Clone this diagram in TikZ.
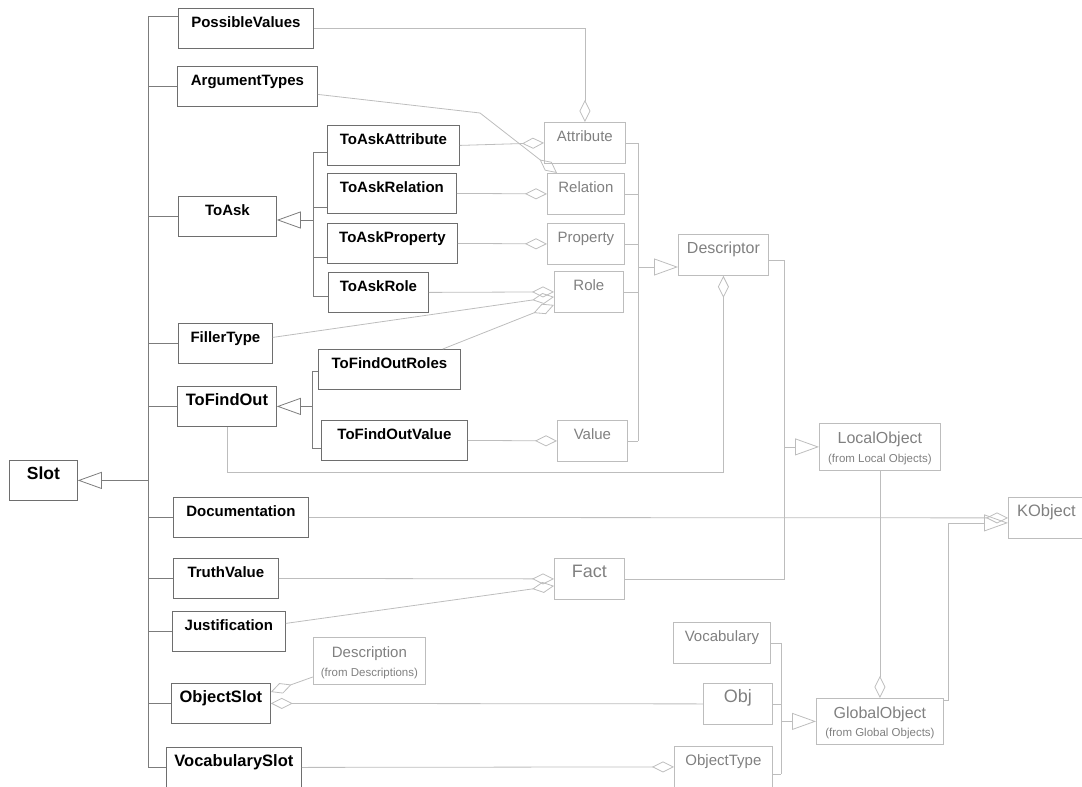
\documentclass[tikz,border=0pt]{standalone}
\usepackage{fontspec}
\setmainfont{Liberation Sans}
\usepackage{xcolor}
\usetikzlibrary{arrows.meta}

\definecolor{dline}{HTML}{7C7C7C}
\definecolor{dborder}{HTML}{6E6E6E}
\definecolor{lline}{HTML}{BDBDBD}
\definecolor{ltext}{HTML}{808080}

\tikzset{
  dbox/.style={draw=dborder, anchor=north west, inner sep=0pt, text height=19pt, text depth=21pt,
    font=\fontsize{#1}{#1}\selectfont\bfseries},
  dbox/.default=15,
  lbox/.style={draw=lline, text=ltext, anchor=north west, inner sep=0pt, text height=19pt, text depth=22pt,
    font=\fontsize{#1}{#1}\selectfont},
  lbox/.default=15,
  twoline/.style={text height=20pt, text depth=27pt},
  subtext/.style={text=ltext, anchor=base, inner sep=0pt, yshift=8pt, font=\fontsize{11.5}{11.5}\selectfont},
  dtree/.style={draw=dline},
  conn/.style={draw=lline},
  gen/.style={-{Triangle[open, length=24pt, width=17pt]}},
  agg/.style={-{Diamond[open, length=22pt, width=11pt]}},
}

\begin{document}
\begin{tikzpicture}[x=1pt,y=-1pt,line width=0.8pt]
  \useasboundingbox (0,0) rectangle (1082,787);

  % slot and its parts
  \node[dbox=17.5, minimum width=68pt] (slot) at (9,460) {Slot};
  \node[dbox, minimum width=135pt] (possible) at (178,8) {PossibleValues};
  \node[dbox, minimum width=140pt] (argtypes) at (177,66) {ArgumentTypes};
  \node[dbox, minimum width=98pt] (toask) at (178,196) {ToAsk};
  \node[dbox, minimum width=132pt] (askattr) at (327,125) {ToAskAttribute};
  \node[dbox, minimum width=129pt] (askrel) at (327,173) {ToAskRelation};
  \node[dbox, minimum width=130pt] (askprop) at (327,223) {ToAskProperty};
  \node[dbox, minimum width=100pt] (askrole) at (328,272) {ToAskRole};
  \node[dbox, minimum width=94pt] (filler) at (178,323) {FillerType};
  \node[dbox=16.5, minimum width=99pt] (tofindout) at (177,386) {ToFindOut};
  \node[dbox, minimum width=142pt] (findroles) at (318,349) {ToFindOutRoles};
  \node[dbox, minimum width=146pt] (findvalue) at (321,420) {ToFindOutValue};
  \node[dbox, minimum width=135pt] (documentation) at (173,497) {Documentation};
  \node[dbox, minimum width=105pt] (truthvalue) at (173,558) {TruthValue};
  \node[dbox, minimum width=113pt] (justification) at (172,611) {Justification};
  \node[dbox=16.5, minimum width=99pt] (objslot) at (171,683) {ObjectSlot};
  \node[dbox=16.5, minimum width=135pt] (vocslot) at (166,747) {VocabularySlot};

  % other classes
  \node[lbox, minimum width=81pt] (attr) at (544,122) {Attribute};
  \node[lbox, minimum width=77pt] (rel) at (547,173) {Relation};
  \node[lbox, minimum width=77pt] (prop) at (547,223) {Property};
  \node[lbox, minimum width=69pt] (role) at (554,271) {Role};
  \node[lbox, minimum width=70pt] (value) at (557,420) {Value};
  \node[lbox=16, minimum width=90pt] (descriptor) at (678,234) {Descriptor};
  \node[lbox=16, twoline, minimum width=121pt] (localobj) at (819,423) {LocalObject};
  \node[subtext] (localobj-from) at (localobj.south) {(from Local Objects)};
  \node[lbox=16.5, minimum width=76pt] (kobject) at (1008,497) {KObject};
  \node[lbox=18, minimum width=70pt] (fact) at (554,558) {Fact};
  \node[lbox, twoline, minimum width=112pt] (description) at (313,637) {Description};
  \node[subtext] (description-from) at (description.south) {(from Descriptions)};
  \node[lbox, minimum width=97pt] (vocab) at (673,622) {Vocabulary};
  \node[lbox=18, minimum width=69pt] (obj) at (703,683) {Obj};
  \node[lbox, minimum width=98pt] (objtype) at (674,746) {ObjectType};
  \node[lbox=16, twoline, text depth=26pt, minimum width=127pt] (globalobj) at (816,698) {GlobalObject};
  \node[subtext] (globalobj-from) at (globalobj.south) {(from Global Objects)};

  % slot tree
  \coordinate (st) at (148,0);
  \draw[dtree] (st |- 0,16) -- (st |- vocslot.west);
  \draw[dtree] (st |- 0,16) -- (possible.west |- 0,16);
  \foreach \c in {argtypes,toask,filler,tofindout,documentation,truthvalue,justification,objslot,vocslot}
    \draw[dtree] (st |- \c.west) -- (\c.west);
  \draw[dtree,gen] (st |- slot.east) -- (slot.east);

  % toask tree
  \coordinate (at) at (313,0);
  \draw[dtree] (at |- 0,152) -- (at |- 0,296);
  \foreach \c/\y in {askattr/152,askrel/207,askprop/257,askrole/296}
    \draw[dtree] (at |- 0,\y) -- (\c.west |- 0,\y);
  \draw[dtree,gen] (at |- 0,220) -- (toask.east |- 0,220);

  % tofindout tree
  \coordinate (ft) at (312,0);
  \draw[dtree] (ft |- 0,371) -- (ft |- 0,448);
  \foreach \c/\y in {findroles/371,findvalue/448}
    \draw[dtree] (ft |- 0,\y) -- (\c.west |- 0,\y);
  \draw[dtree,gen] (ft |- tofindout.east) -- (tofindout.east);

  % descriptor kinds
  \coordinate (dt) at (638,0);
  \draw[conn] (dt |- attr.east) -- (dt |- value.east);
  \foreach \c in {attr,rel,prop,role,value}
    \draw[conn] (\c.east) -- (dt |- \c.east);
  \draw[conn,gen] (dt |- 0,267) -- (descriptor.west |- 0,267);

  % local objects
  \coordinate (lt) at (784,0);
  \draw[conn] ([yshift=-5pt]descriptor.east) -| (lt |- fact.east) -- (fact.east);
  \draw[conn,gen] (lt |- localobj.west) -- (localobj.west);
  \draw[conn,agg] (localobj.south) -- (globalobj.north);

  % global objects
  \coordinate (vt) at (781,0);
  \draw[conn] (vt |- vocab.east) -- (vt |- 0,774);
  \foreach \c in {vocab,obj}
    \draw[conn] (\c.east) -- (vt |- \c.east);
  \draw[conn] (objtype.east |- 0,774) -- (vt |- 0,774);
  \draw[conn,gen] (vt |- globalobj.west) -- (globalobj.west);
  \draw[conn,gen] ([yshift=-2pt]globalobj.north east) -- ++(5,0) |- ([yshift=-5pt]kobject.west);

  % aggregations
  \draw[conn,agg] (possible.east) -| (attr.north);
  \draw[conn,agg] ([yshift=-8pt]argtypes.east) -- (480,113) -- ([xshift=10pt]rel.north west);
  \draw[conn,agg] (askattr.east) -- (attr.west);
  \draw[conn,agg] (askrel.east) -- (rel.west);
  \draw[conn,agg] (askprop.east) -- (prop.west);
  \draw[conn,agg] (askrole.east) -- (role.west);
  \draw[conn,agg] ([yshift=6pt]filler.east) -- ([yshift=-5pt]role.west);
  \draw[conn,agg] ([xshift=-18pt]findroles.north east) -- ([yshift=-13pt]role.west);
  \draw[conn,agg] (findvalue.east) -- (value.west);
  \draw[conn,agg] (tofindout.south) -- (tofindout.south |- 0,472) -| (descriptor.south);
  \draw[conn,agg] (documentation.east) -- (kobject.west);
  \draw[conn,agg] (truthvalue.east) -- (fact.west);
  \draw[conn,agg] ([yshift=8pt]justification.east) -- ([yshift=-7pt]fact.west);
  \draw[conn,agg] ([yshift=-16pt]description.west) -- ([yshift=-9pt]objslot.north east);
  \draw[conn,agg] (obj.west) -- (objslot.east);
  \draw[conn,agg] (vocslot.east) -- (objtype.west);
\end{tikzpicture}
\end{document}
